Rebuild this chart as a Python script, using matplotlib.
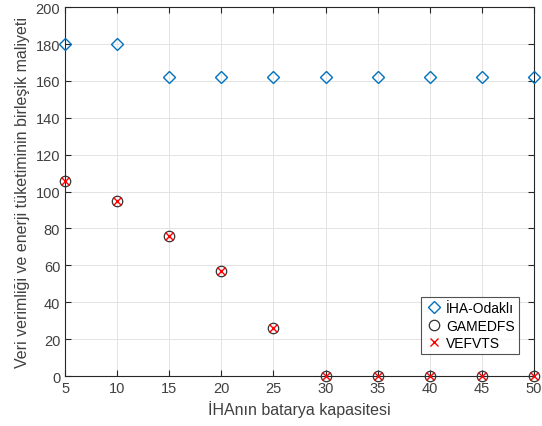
import numpy as np
import matplotlib
matplotlib.use("Agg")
import matplotlib.pyplot as plt

plt.rcParams['font.family'] = ['Liberation Sans', 'DejaVu Sans']

# batarya kapasitesi ve maliyet değerleri
kapasite = [5, 10, 15, 20, 25, 30, 35, 40, 45, 50]
iha_odakli = [180, 180, 162, 162, 162, 162, 162, 162, 162, 162]
gamedfs = [106, 95, 76, 57, 26, 0, 0, 0, 0, 0]
vefvts = [106, 95, 76, 57, 26, 0, 0, 0, 0, 0]

fig = plt.figure(figsize=(5.42, 4.27), dpi=100)
ax = fig.add_axes([0.12, 0.117, 0.865, 0.864])

ax.plot(kapasite, iha_odakli, 'D', mfc='none', mec='#0072BD', ms=6.5, mew=1.0,
        clip_on=False, zorder=3, label='İHA-Odaklı')
ax.plot(kapasite, gamedfs, 'o', mfc='none', mec='#333333', ms=7.5, mew=0.9,
        clip_on=False, zorder=3, label='GAMEDFS')
ax.plot(kapasite, vefvts, 'x', color='red', ms=5.5, mew=1.0,
        clip_on=False, zorder=4, label='VEFVTS')

ax.set_xlim(5, 50)
ax.set_ylim(0, 200)
ax.set_xticks(np.arange(5, 51, 5))
ax.set_yticks(np.arange(0, 201, 20))
ax.grid(True, color='#e3e3e3', linewidth=0.7)
ax.set_axisbelow(True)
ax.tick_params(direction='in', length=4, colors='#262626', labelsize=10.5,
               top=True, right=True, labelcolor='#404040')
for s in ax.spines.values():
    s.set_color('#262626')
    s.set_linewidth(0.8)

ax.set_xlabel('İHAnın batarya kapasitesi', fontsize=11.5, color='#404040')
ax.set_ylabel('Veri verimliği ve enerji tüketiminin birleşik maliyeti',
              fontsize=11.5, color='#404040')

leg = ax.legend(loc='lower right', bbox_to_anchor=(0.983, 0.04), fontsize=10,
                frameon=True, fancybox=False, edgecolor='#262626',
                handletextpad=0.3, handlelength=1.2, borderpad=0.3,
                labelspacing=0.25)
leg.get_frame().set_linewidth(0.8)

fig.savefig('out.png', dpi=100)
